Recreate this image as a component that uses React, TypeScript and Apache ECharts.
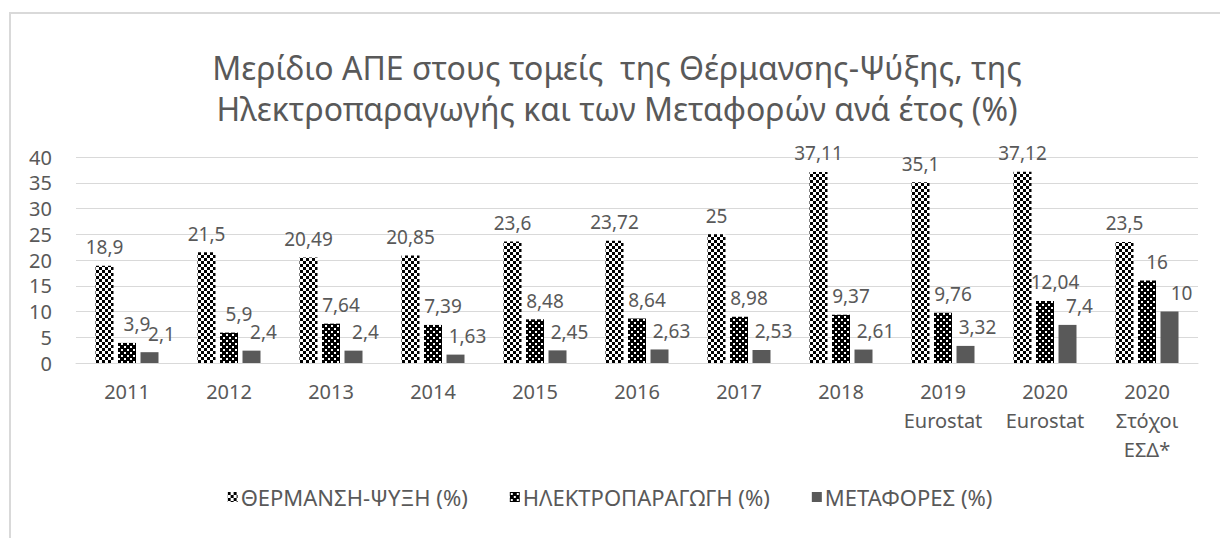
import React, { useEffect, useRef } from "react";
import * as echarts from "echarts";

const categories = [
  "2011", "2012", "2013", "2014", "2015", "2016", "2017", "2018",
  "2019\nEurostat", "2020\nEurostat", "2020\nΣτόχοι\nΕΣΔ*",
];
const heatingCooling = [18.9, 21.5, 20.49, 20.85, 23.6, 23.72, 25, 37.11, 35.1, 37.12, 23.5];
const electricity = [3.9, 5.9, 7.64, 7.39, 8.48, 8.64, 8.98, 9.37, 9.76, 12.04, 16];
const transport = [2.1, 2.4, 2.4, 1.63, 2.45, 2.63, 2.53, 2.61, 3.32, 7.4, 10];
const seriesNames = ["ΘΕΡΜΑΝΣΗ-ΨΥΞΗ (%)", "ΗΛΕΚΤΡΟΠΑΡΑΓΩΓΗ (%)", "ΜΕΤΑΦΟΡΕΣ (%)"];
const titleLines = [
  "Μερίδιο ΑΠΕ στους τομείς  της Θέρμανσης-Ψύξης, της",
  "Ηλεκτροπαραγωγής και των Μεταφορών ανά έτος (%)",
];

const FONT = "'Noto Sans', sans-serif";
const TEXT = "#595959";

function makeChecker() {
  const c = document.createElement("canvas");
  c.width = 6;
  c.height = 6;
  const ctx = c.getContext("2d")!;
  ctx.fillStyle = "#ffffff";
  ctx.fillRect(0, 0, 6, 6);
  ctx.fillStyle = "#000000";
  ctx.fillRect(0, 0, 3, 3);
  ctx.fillRect(3, 3, 3, 3);
  return c;
}

function makeDots() {
  const c = document.createElement("canvas");
  c.width = 6;
  c.height = 6;
  const ctx = c.getContext("2d")!;
  ctx.fillStyle = "#000000";
  ctx.fillRect(0, 0, 6, 6);
  ctx.fillStyle = "#ffffff";
  ctx.fillRect(1, 1, 2, 2);
  ctx.fillRect(4, 4, 2, 2);
  return c;
}

export default function App() {
  const ref = useRef<HTMLDivElement>(null);

  useEffect(() => {
    if (!ref.current) return;
    const chart = echarts.init(ref.current, undefined, { renderer: "svg" });
    const checker = { image: makeChecker(), repeat: "repeat", imageWidth: 6, imageHeight: 6 };
    const dots = { image: makeDots(), repeat: "repeat", imageWidth: 6, imageHeight: 6 };
    const fmt = (p: any) => String(p.value).replace(".", ",");
    const mkLabel = (dx: number) => ({
      show: true,
      position: "top",
      distance: 9,
      offset: [dx, 0],
      color: TEXT,
      fontFamily: FONT,
      fontSize: 19,
      formatter: fmt,
    });
    const option: any = {
      animation: false,
      backgroundColor: "#ffffff",
      textStyle: { fontFamily: FONT, color: TEXT },
      graphic: [
        {
          type: "rect",
          shape: { x: 10, y: 13, width: 1400, height: 700 },
          style: { fill: "none", stroke: "#d9d9d9", lineWidth: 2 },
          silent: true,
        },
      ],
      title: {
        text: titleLines.join("\n"),
        left: 612,
        textAlign: "center",
        top: 42,
        textStyle: {
          fontFamily: FONT,
          fontWeight: "normal",
          fontSize: 32,
          lineHeight: 41,
          color: TEXT,
        },
      },
      legend: {
        data: seriesNames,
        top: 481,
        left: "center",
        icon: "rect",
        itemWidth: 10,
        itemHeight: 10,
        itemGap: 42,
        textStyle: { fontFamily: FONT, fontSize: 22, color: TEXT, padding: [0, 0, 0, -2] },
      },
      grid: { left: 76, right: 22, top: 157, bottom: 175, containLabel: false },
      xAxis: {
        type: "category",
        data: categories,
        axisLine: { lineStyle: { color: "#d9d9d9", width: 1 } },
        axisTick: { show: false },
        axisLabel: {
          color: TEXT,
          fontFamily: FONT,
          fontSize: 20,
          lineHeight: 29,
          margin: 14,
          interval: 0,
        },
      },
      yAxis: {
        type: "value",
        min: 0,
        max: 40,
        interval: 5,
        axisLine: { show: false },
        axisTick: { show: false },
        splitLine: { lineStyle: { color: "#d9d9d9", width: 1 } },
        axisLabel: { color: TEXT, fontFamily: FONT, fontSize: 20, margin: 24 },
      },
      series: [
        {
          name: seriesNames[0],
          type: "bar",
          data: heatingCooling,
          barWidth: 18,
          barGap: "25%",
          itemStyle: { color: checker },
          label: mkLabel(0),
        },
        {
          name: seriesNames[1],
          type: "bar",
          data: electricity,
          barWidth: 18,
          barGap: "25%",
          itemStyle: { color: dots },
          label: mkLabel(10),
        },
        {
          name: seriesNames[2],
          type: "bar",
          data: transport,
          barWidth: 18,
          barGap: "25%",
          itemStyle: { color: "#595959" },
          label: mkLabel(12),
        },
      ],
    };
    chart.setOption(option);
    return () => chart.dispose();
  }, []);

  return (
    <div
      ref={ref}
      style={{ position: "fixed", left: 0, top: 0, width: 1220, height: 538 }}
    />
  );
}
